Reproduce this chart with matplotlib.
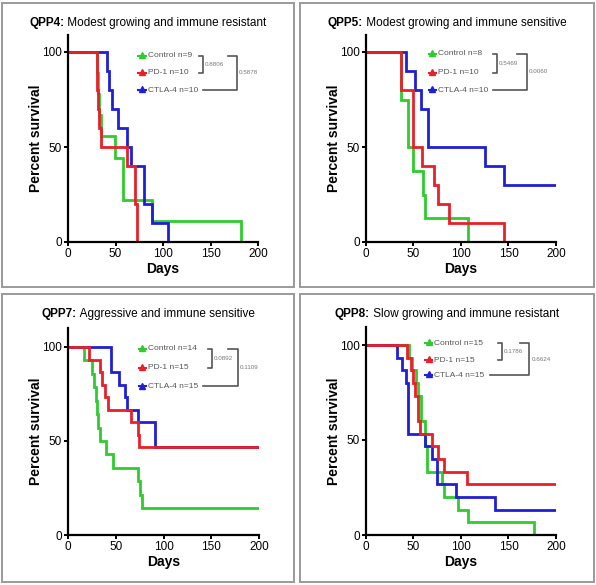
import numpy as np
import matplotlib
matplotlib.use("Agg")
import matplotlib.pyplot as plt
from matplotlib.patches import Rectangle
from matplotlib.lines import Line2D

plt.rcParams['font.family'] = ['Liberation Sans', 'DejaVu Sans']

# ---- Data: Kaplan-Meier step curves (time in days, percent survival) ----
titles = [("QPP4:", " Modest growing and immune resistant"),
          ("QPP5:", " Modest growing and immune sensitive"),
          ("QPP7:", " Aggressive and immune sensitive"),
          ("QPP8:", " Slow growing and immune resistant")]

legend_labels = [["Control n=9", "PD-1 n=10", "CTLA-4 n=10"],
                 ["Control n=8", "PD-1 n=10", "CTLA-4 n=10"],
                 ["Control n=14", "PD-1 n=15", "CTLA-4 n=15"],
                 ["Control n=15", "PD-1 n=15", "CTLA-4 n=15"]]

p_values = [["0.8806", "0.5878"],
            ["0.5469", "0.0060"],
            ["0.0892", "0.1109"],
            ["0.1786", "0.6624"]]

# QPP4
q4_ctrl_t = [0, 30, 32, 33, 35, 49, 58, 88, 182]
q4_ctrl_s = [100, 88.9, 77.8, 66.7, 55.6, 44.4, 22.2, 11.1, 0]
q4_pd1_t = [0, 30, 31, 32, 33, 35, 62, 70, 73]
q4_pd1_s = [100, 90, 80, 70, 60, 50, 40, 20, 0]
q4_ctla_t = [0, 41, 43, 46, 53, 62, 66, 80, 88, 105]
q4_ctla_s = [100, 90, 80, 70, 60, 50, 40, 20, 10, 0]

# QPP5
q5_ctrl_t = [0, 37, 44, 50, 60, 62, 107]
q5_ctrl_s = [100, 75, 50, 37.5, 25, 12.5, 0]
q5_pd1_t = [0, 37, 50, 59, 72, 76, 87, 145]
q5_pd1_s = [100, 80, 50, 40, 30, 20, 10, 0]
q5_ctla_t = [0, 42, 52, 58, 65, 125, 145, 200]
q5_ctla_s = [100, 90, 80, 70, 50, 40, 30, 30]

# QPP7
q7_ctrl_t = [0, 17, 25, 27, 29, 30, 31, 33, 40, 47, 73, 75, 77, 200]
q7_ctrl_s = [100, 92.9, 85.7, 78.6, 71.4, 64.3, 57.1, 50, 42.9, 35.7,
             28.6, 21.4, 14.3, 14.3]
q7_pd1_t = [0, 22, 33, 36, 39, 42, 66, 73, 74, 200]
q7_pd1_s = [100, 93.3, 86.7, 80, 73.3, 66.7, 60, 53.3, 46.7, 46.7]
q7_ctla_t = [0, 45, 53, 60, 62, 73, 91, 200]
q7_ctla_s = [100, 86.7, 80, 73.3, 66.7, 60, 46.7, 46.7]

# QPP8
q8_ctrl_t = [0, 45, 48, 53, 55, 58, 62, 64, 80, 82, 97, 107, 177]
q8_ctrl_s = [100, 93.3, 86.7, 80, 73.3, 60, 46.7, 33.3, 26.7, 20, 13.3, 6.7, 0]
q8_pd1_t = [0, 43, 47, 50, 52, 55, 57, 70, 76, 82, 106, 200]
q8_pd1_s = [100, 93.3, 86.7, 80, 73.3, 60, 53.3, 46.7, 40, 33.3, 26.7, 26.7]
q8_ctla_t = [0, 33, 38, 42, 44, 62, 70, 75, 95, 136, 200]
q8_ctla_s = [100, 93.3, 86.7, 80, 53.3, 46.7, 40, 26.7, 20, 13.3, 13.3]

curves = [[(q4_ctrl_t, q4_ctrl_s), (q4_pd1_t, q4_pd1_s), (q4_ctla_t, q4_ctla_s)],
          [(q5_ctrl_t, q5_ctrl_s), (q5_pd1_t, q5_pd1_s), (q5_ctla_t, q5_ctla_s)],
          [(q7_ctrl_t, q7_ctrl_s), (q7_pd1_t, q7_pd1_s), (q7_ctla_t, q7_ctla_s)],
          [(q8_ctrl_t, q8_ctrl_s), (q8_pd1_t, q8_pd1_s), (q8_ctla_t, q8_ctla_s)]]

colors = ["#2ecc2e", "#e8202a", "#1f1fd6"]
draw_order = [0, 2, 1]

# ---- Layout (figure pixels) ----
W, H = 596, 585
# axes boxes: left, top (y-axis top), right, y(0) pixel, y(100) pixel
ax_px = [(68, 35, 258, 242, 52),
         (366, 35, 556, 242, 52),
         (68, 328, 259, 535, 347),
         (366, 327, 556, 535, 345)]
panel_px = [(2, 3, 294, 287), (300, 3, 594, 287),
            (2, 294, 294, 582), (300, 294, 594, 582)]
# legend placement in data units: marker x, y rows, bracket1 x, bracket2 x
leg_pos = [(78, [98, 89, 80], 142, 178),
           (70, [99, 89, 80], 138, 169),
           (78, [99, 89, 79], 151, 178),
           (66, [101, 92, 84], 143, 172)]

fig = plt.figure(figsize=(W / 100, H / 100), dpi=100)

for (x0, y0, x1, y1) in panel_px:
    fig.patches.append(Rectangle((x0 / W, 1 - y1 / H), (x1 - x0) / W, (y1 - y0) / H,
                                 transform=fig.transFigure, fill=False,
                                 edgecolor="#9a9a9a", lw=1.4))

for i in range(4):
    left, top, right, zero, hundred = ax_px[i]
    ppu = (zero - hundred) / 100.0
    ytop = 100 + (hundred - top) / ppu
    ax = fig.add_axes([left / W, 1 - zero / H, (right - left) / W, (zero - top) / H])
    for k in draw_order:
        t, s = curves[i][k]
        ax.step(t, s, where="post", color=colors[k], lw=2.0, solid_joinstyle="miter")
    ax.set_xlim(0, 200)
    ax.set_ylim(0, ytop)
    ax.set_xticks([0, 50, 100, 150, 200])
    ax.set_yticks([0, 50, 100])
    for sp in ["top", "right"]:
        ax.spines[sp].set_visible(False)
    for sp in ["left", "bottom"]:
        ax.spines[sp].set_linewidth(1.6)
    ax.tick_params(direction="out", length=3, width=1.4, labelsize=8.5, pad=1.5)
    ax.set_xlabel("Days", fontsize=10, fontweight="bold", labelpad=1)
    ax.set_ylabel("Percent survival", fontsize=10, fontweight="bold", labelpad=-1)

    # title: bold prefix + regular text
    cx = (panel_px[i][0] + panel_px[i][2]) / 2 / W
    ty = 1 - (panel_px[i][1] + 20) / H
    bold, rest = titles[i]
    tb = fig.text(0, ty, bold, fontsize=8.5, fontweight="bold", va="center")
    tr = fig.text(0, ty, rest, fontsize=8.5, va="center")
    fig.canvas.draw()
    r = fig.canvas.get_renderer()
    wb = tb.get_window_extent(r).width / W
    wr = tr.get_window_extent(r).width / W
    start = cx - (wb + wr) / 2
    tb.set_x(start)
    tr.set_x(start + wb)

    # legend with p-value brackets
    mx, rows, b1, b2 = leg_pos[i]
    labels = []
    for k in range(3):
        ax.add_line(Line2D([mx - 4, mx + 4], [rows[k], rows[k]], color=colors[k], lw=1.5,
                           clip_on=False))
        ax.plot([mx], [rows[k] + 0.5], marker="^", ms=4, color=colors[k], clip_on=False)
        labels.append(ax.text(mx + 6, rows[k], legend_labels[i][k], fontsize=6,
                              color="#555555", va="center", ha="left"))
    fig.canvas.draw()
    ext = labels[2].get_window_extent(fig.canvas.get_renderer())
    line_start = ax.transData.inverted().transform((ext.x1 + 5, ext.y0))[0]
    bc = "#555555"
    ax.plot([b1 - 4, b1, b1, b1 - 4], [rows[0], rows[0], rows[1], rows[1]], color=bc,
            lw=1.2, clip_on=False)
    ax.text(b1 + 2, (rows[0] + rows[1]) / 2, p_values[i][0], fontsize=4.5, color="#777777",
            va="center", ha="left")
    ax.plot([b2 - 10, b2, b2, line_start], [rows[0], rows[0], rows[2], rows[2]], color=bc,
            lw=1.2, clip_on=False)
    ax.text(b2 + 2, (rows[0] + rows[2]) / 2, p_values[i][1], fontsize=4.5, color="#777777",
            va="center", ha="left")

fig.savefig("out.png", dpi=100)
